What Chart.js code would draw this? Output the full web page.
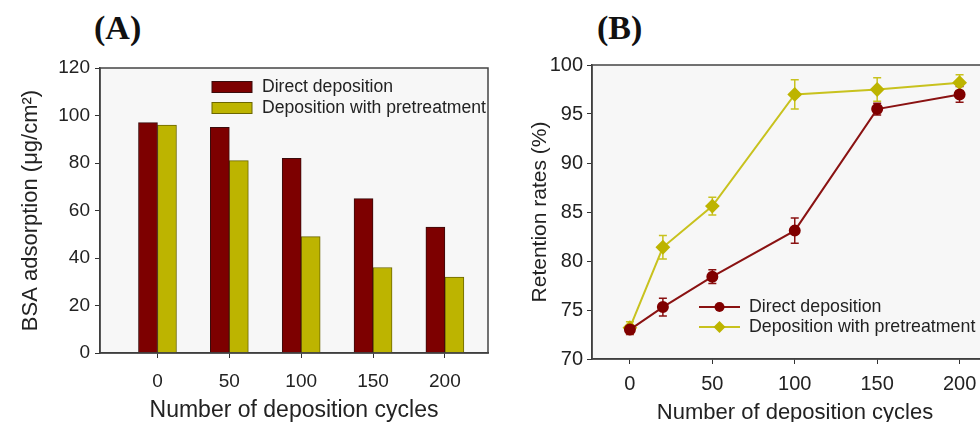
<!DOCTYPE html>
<html>
<head>
<meta charset="utf-8">
<script src="https://cdn.jsdelivr.net/npm/chart.js@4/dist/chart.umd.min.js"></script>
<style>
    html, body { margin: 0; padding: 0; background: #fff; width: 980px; height: 422px; overflow: hidden; position: relative; }
    .panel { position: absolute; top: 0; }
    #boxA { left: 0; }
    #boxB { left: 520px; }
    .tag { position: absolute; font: bold 34px "Liberation Serif", serif; line-height: 34px; color: #111; }
</style>
</head>
<body>
<div class="tag" style="left:94px; top:11px">(A)</div>
<div class="tag" style="left:597px; top:11px">(B)</div>
<div id="boxA" class="panel"><canvas id="chartA" width="520" height="424"></canvas></div>
<div id="boxB" class="panel"><canvas id="chartB" width="486" height="426"></canvas></div>
<script>
// (A) adsorption
const cyclesA = [0, 50, 100, 150, 200]
const adsorptionDirect = [97, 95, 82, 65, 53]
const adsorptionPretreat = [96, 81, 49, 36, 32]
const yTicksA = [0, 20, 40, 60, 80, 100, 120]

// (B) retention
const cyclesB = [0, 20, 50, 100, 150, 200]
const retentionDirect = [73.0, 75.3, 78.4, 83.1, 95.5, 97.0]
const retentionDirectErr = [0.5, 0.9, 0.7, 1.3, 0.6, 0.8]
const retentionPretreat = [73.2, 81.4, 85.6, 97.0, 97.5, 98.2]
const retentionPretreatErr = [0.6, 1.2, 0.9, 1.5, 1.2, 0.8]
const xTicksB = [0, 50, 100, 150, 200]
const yTicksB = [70, 75, 80, 85, 90, 95, 100]

const labels = ["Direct deposition", "Deposition with pretreatment"]

Chart.defaults.font.family = '"Liberation Sans", Arial, sans-serif'
Chart.defaults.color = '#222'

const RED = '#7d0000'
const YELLOW = '#bdb400'

// fond gris + cadre autour de la zone de tracé
const framePlugin = {
    id: 'frame',
    beforeDraw(chart) {
        const a = chart.chartArea
        chart.ctx.save()
        chart.ctx.fillStyle = '#f7f7f7'
        chart.ctx.fillRect(a.left, a.top, a.right - a.left, a.bottom - a.top)
        chart.ctx.restore()
    },
    afterDraw(chart) {
        const a = chart.chartArea
        const ctx = chart.ctx
        ctx.save()
        ctx.strokeStyle = '#444'
        ctx.lineWidth = 1.5
        ctx.strokeRect(a.left, a.top, a.right - a.left, a.bottom - a.top)
        ctx.restore()
    }
}

// barres d'erreur
const errorPlugin = {
    id: 'errors',
    beforeDatasetsDraw(chart) {
        const ctx = chart.ctx
        const xs = chart.scales.x, ys = chart.scales.y
        ctx.save()
        chart.data.datasets.forEach(ds => {
            if (!ds.errors) return
            ctx.strokeStyle = ds.borderColor
            ctx.lineWidth = 1.5
            ds.data.forEach((p, i) => {
                const x = xs.getPixelForValue(p.x)
                const y1 = ys.getPixelForValue(p.y - ds.errors[i])
                const y2 = ys.getPixelForValue(p.y + ds.errors[i])
                ctx.beginPath()
                ctx.moveTo(x, y1); ctx.lineTo(x, y2)
                ctx.moveTo(x - 4, y1); ctx.lineTo(x + 4, y1)
                ctx.moveTo(x - 4, y2); ctx.lineTo(x + 4, y2)
                ctx.stroke()
            })
        })
        ctx.restore()
    }
}

// légende dans le cadre
const legendPlugin = {
    id: 'insideLegend',
    afterDraw(chart, args, opts) {
        const ctx = chart.ctx
        ctx.save()
        ctx.font = opts.size + 'px "Liberation Sans", Arial, sans-serif'
        ctx.textBaseline = 'middle'
        chart.data.datasets.forEach((ds, i) => {
            const y = opts.y + i * opts.gap
            if (opts.kind === 'bar') {
                ctx.fillStyle = ds.backgroundColor
                ctx.fillRect(opts.x, y - 5.5, 40, 11)
                ctx.strokeStyle = ds.borderColor
                ctx.lineWidth = 1
                ctx.strokeRect(opts.x, y - 5.5, 40, 11)
            } else {
                ctx.strokeStyle = ds.borderColor
                ctx.lineWidth = 2
                ctx.beginPath()
                ctx.moveTo(opts.x, y); ctx.lineTo(opts.x + 41, y)
                ctx.stroke()
                ctx.fillStyle = ds.pointBackgroundColor
                const cx = opts.x + 20.5
                ctx.beginPath()
                if (ds.pointStyle === 'rectRot') {
                    const r = ds.pointRadius
                    ctx.moveTo(cx, y - r); ctx.lineTo(cx + r, y); ctx.lineTo(cx, y + r); ctx.lineTo(cx - r, y)
                    ctx.closePath()
                } else {
                    ctx.arc(cx, y, ds.pointRadius, 0, Math.PI * 2)
                }
                ctx.fill()
            }
            ctx.fillStyle = '#222'
            ctx.fillText(ds.label, opts.textX, y)
        })
        ctx.restore()
    }
}

const axisCommon = {
    grid: { drawOnChartArea: false, drawTicks: true, tickLength: 5, tickColor: '#333', offset: false },
    border: { display: true, color: '#333', width: 1.5 },
}

// tailles fixes des axes, sans marge pour les étiquettes qui débordent
const fixX = h => s => { s.height = h; s.paddingLeft = 0; s.paddingRight = 0 }
const fixY = w => s => { s.width = w; s.paddingTop = 0; s.paddingBottom = 0 }

new Chart(document.querySelector("#chartA"), {
    type: "bar",
    data: {
        datasets: [{
            label: labels[0],
            data: cyclesA.map((c, i) => ({ x: c, y: adsorptionDirect[i] })),
            backgroundColor: RED,
            borderColor: '#3a0c0c',
            borderWidth: 1,
            barThickness: 19,
        }, {
            label: labels[1],
            data: cyclesA.map((c, i) => ({ x: c, y: adsorptionPretreat[i] })),
            backgroundColor: YELLOW,
            borderColor: '#6b6600',
            borderWidth: 1,
            barThickness: 19,
        }],
    },
    options: {
        responsive: false,
        animation: false,
        layout: { padding: { top: 68, right: 32, bottom: 0, left: 0 } },
        plugins: {
            legend: { display: false },
            tooltip: { enabled: false },
            insideLegend: { kind: 'bar', x: 212, y: 87, gap: 21, textX: 262, size: 17.6 },
        },
        scales: {
            x: {
                ...axisCommon,
                type: 'linear',
                offset: false,
                min: -40,
                max: 230,
                afterBuildTicks: s => { s.ticks = cyclesA.map(v => ({ value: v })) },
                afterFit: fixX(71),
                ticks: { font: { size: 19 }, padding: 12 },
                title: { display: true, text: 'Number of deposition cycles', font: { size: 23 }, padding: { top: 0, bottom: 0 } },
            },
            y: {
                ...axisCommon,
                min: 0,
                max: 120,
                afterBuildTicks: s => { s.ticks = yTicksA.map(v => ({ value: v })) },
                afterFit: fixY(100),
                ticks: { font: { size: 19 }, padding: 5 },
                title: { display: true, text: 'BSA adsorption (μg/cm²)', font: { size: 22 }, padding: { top: 18, bottom: 0 } },
            },
        },
    },
    plugins: [framePlugin, legendPlugin],
})

new Chart(document.querySelector("#chartB"), {
    type: "line",
    data: {
        datasets: [{
            label: labels[0],
            data: cyclesB.map((c, i) => ({ x: c, y: retentionDirect[i] })),
            errors: retentionDirectErr,
            borderColor: '#8a1212',
            borderWidth: 2,
            pointBackgroundColor: '#800000',
            pointBorderColor: '#800000',
            pointStyle: 'circle',
            pointRadius: 5,
        }, {
            label: labels[1],
            data: cyclesB.map((c, i) => ({ x: c, y: retentionPretreat[i] })),
            errors: retentionPretreatErr,
            borderColor: '#c8c21e',
            borderWidth: 2,
            pointBackgroundColor: '#bdb400',
            pointBorderColor: '#bdb400',
            pointStyle: 'rectRot',
            pointRadius: 6,
        }],
    },
    options: {
        responsive: false,
        animation: false,
        layout: { padding: { top: 65, right: 2, bottom: 0, left: 0 } },
        plugins: {
            legend: { display: false },
            tooltip: { enabled: false },
            insideLegend: { kind: 'line', x: 179, y: 307, gap: 20, textX: 229, size: 17.8 },
        },
        scales: {
            x: {
                ...axisCommon,
                type: 'linear',
                min: -23,
                max: 223.3,
                afterBuildTicks: s => { s.ticks = xTicksB.map(v => ({ value: v })) },
                afterFit: fixX(67),
                ticks: { font: { size: 20 }, padding: 8 },
                title: { display: true, text: 'Number of deposition cycles', font: { size: 22 }, padding: { top: 0, bottom: 0 } },
            },
            y: {
                ...axisCommon,
                min: 70,
                max: 100,
                afterBuildTicks: s => { s.ticks = yTicksB.map(v => ({ value: v })) },
                afterFit: fixY(72),
                ticks: { font: { size: 20 }, padding: 4 },
                title: { display: true, text: 'Retention rates (%)', font: { size: 21 }, padding: { top: 8, bottom: 0 } },
            },
        },
    },
    plugins: [framePlugin, errorPlugin, legendPlugin],
})
</script>
</body>
</html>
